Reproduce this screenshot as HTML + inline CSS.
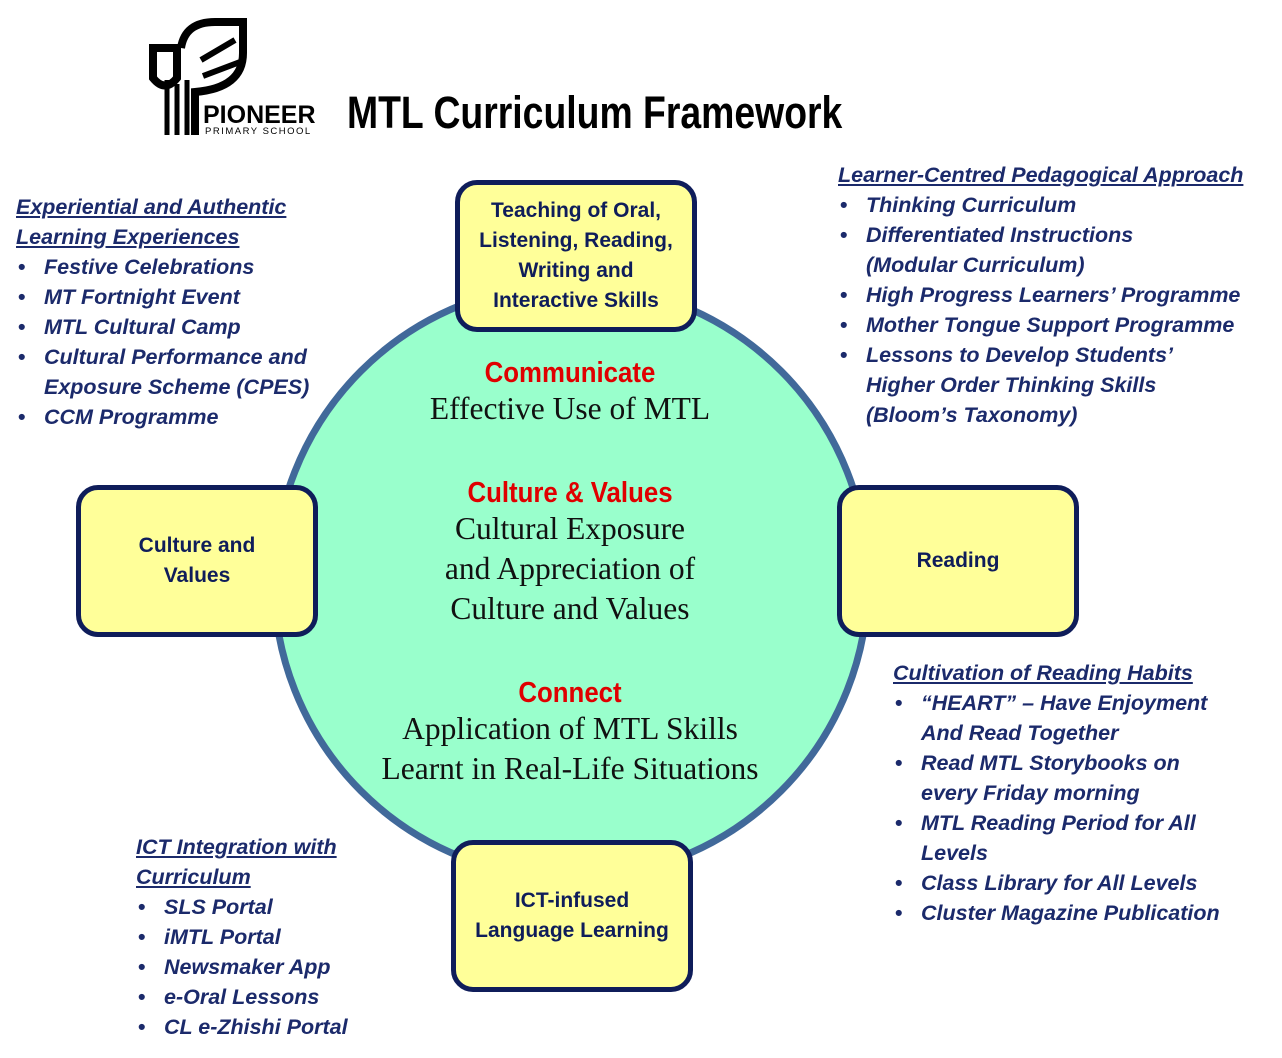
<!DOCTYPE html>
<html><head><meta charset="utf-8"><style>
body{margin:0;width:1282px;height:1058px;background:#fff;position:relative;overflow:hidden;font-family:"Liberation Sans",sans-serif}
.abs{position:absolute}
.list{position:absolute;color:#1b2a6b;font-weight:bold;font-style:italic;font-size:21.5px;line-height:30px;white-space:nowrap}
.list .h{text-decoration:underline}
.list .b{position:relative;padding-left:28px}
.list .b::before{content:"•";position:absolute;left:2px;font-style:normal}
.list .c{padding-left:28px}
.box{position:absolute;width:232px;height:142px;background:#ffff99;border:5px solid #0f1d5a;border-radius:22px;display:flex;align-items:center;justify-content:center;text-align:center;color:#0f1d5a;font-weight:bold;font-size:21px;line-height:30px}
.ct{position:absolute;left:290px;width:560px;text-align:center}
.red{color:#e00000;font-weight:bold;font-size:29px;line-height:36px;transform:scaleX(0.89)}
.ser{color:#111;font-family:"Liberation Serif",serif;font-size:31.5px;line-height:40px}
</style></head><body>
<svg class="abs" style="left:145px;top:18px" width="180" height="120" viewBox="0 0 180 120">
<path d="M8 30 H32 V60 Q20 75 8 60 Z" fill="none" stroke="#000" stroke-width="8"/>
<path d="M36 30 Q40 4 70 4 H98 V35 Q98 70 50 74 V117" fill="none" stroke="#000" stroke-width="8"/>
<path d="M56 42 L90 22 M58 58 L95 44" stroke="#000" stroke-width="6"/>
<path d="M22 117 V62 M32 117 V66 M42 117 V62" stroke="#000" stroke-width="5"/>
<text x="58" y="105" font-family="Liberation Sans" font-weight="bold" font-size="25" fill="#000">PIONEER</text>
<text x="60" y="116" font-family="Liberation Sans" font-size="9.5" letter-spacing="1.5" fill="#000">PRIMARY SCHOOL</text>
</svg>
<div class="abs" style="left:347px;top:88px;font-weight:bold;font-size:45px;line-height:50px;color:#000;white-space:nowrap;transform:scaleX(0.83);transform-origin:left top">MTL Curriculum Framework</div>

<svg class="abs" style="left:0;top:0" width="1282" height="1058"><circle cx="571" cy="581" r="297" fill="#99ffcc" stroke="#41699a" stroke-width="7"/></svg>

<div class="ct" style="top:355px"><div class="red">Communicate</div><div class="ser" style="margin-top:-2px">Effective Use of MTL</div></div>
<div class="ct" style="top:475px"><div class="red">Culture &amp; Values</div><div class="ser" style="margin-top:-2px">Cultural Exposure<br>and Appreciation of<br>Culture and Values</div></div>
<div class="ct" style="top:675px"><div class="red">Connect</div><div class="ser" style="margin-top:-2px">Application of MTL Skills<br>Learnt in Real-Life Situations</div></div>

<div class="box" style="left:455px;top:180px">Teaching of Oral,<br>Listening, Reading,<br>Writing and<br>Interactive Skills</div>
<div class="box" style="left:76px;top:485px">Culture and<br>Values</div>
<div class="box" style="left:837px;top:485px">Reading</div>
<div class="box" style="left:451px;top:840px">ICT-infused<br>Language Learning</div>

<div class="list" style="left:16px;top:192px">
<div class="h">Experiential and Authentic</div><div class="h">Learning Experiences</div>
<div class="b">Festive Celebrations</div><div class="b">MT Fortnight Event</div><div class="b">MTL Cultural Camp</div>
<div class="b">Cultural Performance and</div><div class="c">Exposure Scheme (CPES)</div><div class="b">CCM Programme</div></div>

<div class="list" style="left:838px;top:160px">
<div class="h">Learner-Centred Pedagogical Approach</div>
<div class="b">Thinking Curriculum</div><div class="b">Differentiated Instructions</div><div class="c">(Modular Curriculum)</div>
<div class="b">High Progress Learners’ Programme</div><div class="b">Mother Tongue Support Programme</div>
<div class="b">Lessons to Develop Students’</div><div class="c">Higher Order Thinking Skills</div><div class="c">(Bloom’s Taxonomy)</div></div>

<div class="list" style="left:893px;top:658px">
<div class="h">Cultivation of Reading Habits</div>
<div class="b">“HEART” – Have Enjoyment</div><div class="c">And Read Together</div>
<div class="b">Read MTL Storybooks on</div><div class="c">every Friday morning</div>
<div class="b">MTL Reading Period for All</div><div class="c">Levels</div>
<div class="b">Class Library for All Levels</div><div class="b">Cluster Magazine Publication</div></div>

<div class="list" style="left:136px;top:832px">
<div class="h">ICT Integration with</div><div class="h">Curriculum</div>
<div class="b">SLS Portal</div><div class="b">iMTL Portal</div><div class="b">Newsmaker App</div><div class="b">e-Oral Lessons</div><div class="b">CL e-Zhishi Portal</div></div>
</body></html>
